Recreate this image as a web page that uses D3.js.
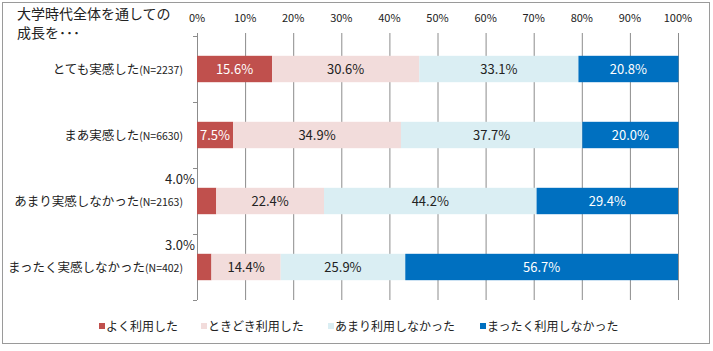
<!DOCTYPE html>
<html><head><meta charset="utf-8">
<script src="https://cdn.jsdelivr.net/npm/d3@7/dist/d3.min.js"></script>
<style>body{margin:0;background:#fff;} text{font-family:"Noto Sans CJK JP","Noto Sans",sans-serif;}</style>
</head><body>
<svg id="c" width="713" height="351"></svg>
<script>
const categories = ["とても実感した", "まあ実感した", "あまり実感しなかった", "まったく実感しなかった"];
const sampleSizes = ["(N=2237)", "(N=6630)", "(N=2163)", "(N=402)"];
const seriesNames = ["よく利用した", "ときどき利用した", "あまり利用しなかった", "まったく利用しなかった"];
const often = [15.6, 7.5, 4.0, 3.0];
const sometimes = [30.6, 34.9, 22.4, 14.4];
const rarely = [33.1, 37.7, 44.2, 25.9];
const never = [20.8, 20.0, 29.4, 56.7];
const tickValues = [0,10,20,30,40,50,60,70,80,90,100];
const colors = ["#C0504D", "#F2DCDB", "#DAEEF3", "#0070C0"];
const labelColors = ["#ffffff", "#222222", "#222222", "#ffffff"];

const series = [often, sometimes, rarely, never];
const svg = d3.select("#c");
svg.append("rect").attr("x",2.5).attr("y",2.5).attr("width",707).attr("height",341)
  .attr("fill","#fff").attr("stroke","#9a9a9a");

const x = d3.scaleLinear().domain([0,100]).range([197,678]);
const y = d3.scaleBand().domain(categories).range([36,300]).paddingInner(0.6).paddingOuter(0.3);
const yBand = d3.scaleBand().domain(categories).range([36,300]);

// gridlines
svg.append("g").selectAll("line").data(tickValues).join("line")
  .attr("x1",d=>x(d)+0.5).attr("x2",d=>x(d)+0.5).attr("y1",33).attr("y2",300)
  .attr("stroke","#8c8c8c").attr("stroke-width",1);

// left axis ticks
const cuts = [36].concat(categories.map(c=>yBand(c)+yBand.bandwidth()));
svg.append("g").selectAll("line").data(cuts).join("line")
  .attr("x1",193).attr("x2",197).attr("y1",d=>Math.round(d)+0.5).attr("y2",d=>Math.round(d)+0.5)
  .attr("stroke","#8c8c8c");

// top tick labels
svg.append("g").selectAll("text").data(tickValues).join("text")
  .attr("x",d=>x(d)).attr("y",22).attr("text-anchor","middle")
  .attr("font-size",11).attr("fill","#222").text(d=>d+"%");

// stacked bars
const stackData = categories.map((c,i)=>{const o={cat:c}; seriesNames.forEach((s,j)=>o[s]=series[j][i]); return o;});
const stacked = d3.stack().keys(seriesNames)(stackData);
stacked.forEach((layer,j)=>{
  const g = svg.append("g");
  g.selectAll("rect").data(layer).join("rect")
    .attr("x",d=>x(d[0])).attr("width",d=>x(d[1])-x(d[0]))
    .attr("y",d=>y(d.data.cat)).attr("height",y.bandwidth())
    .attr("fill",colors[j]);
  g.selectAll("text").data(layer).join("text")
    .attr("x",d=>(d[1]-d[0])<5 ? x(0)-2 : (x(d[0])+x(d[1]))/2)
    .attr("y",d=>(d[1]-d[0])<5 ? y(d.data.cat)-4 : y(d.data.cat)+y.bandwidth()/2+5)
    .attr("text-anchor",d=>(d[1]-d[0])<5 ? "end" : "middle")
    .attr("font-size",13)
    .attr("fill",d=>(d[1]-d[0])<5 ? "#222" : labelColors[j])
    .text(d=>(d[1]-d[0]).toFixed(1)+"%");
});

// category labels
const cl = svg.append("g").selectAll("text").data(categories).join("text")
  .attr("x",183).attr("y",(d)=>y(d)+y.bandwidth()/2+5).attr("text-anchor","end")
  .attr("font-size",12.5).attr("fill","#222");
cl.append("tspan").text(d=>d);
cl.append("tspan").attr("font-size",10.5).text((d,i)=>sampleSizes[i]);

// title
svg.append("text").attr("x",17).attr("y",19).attr("font-size",14).attr("fill","#222").text("大学時代全体を通しての");
svg.append("text").attr("x",17).attr("y",38).attr("font-size",14).attr("fill","#222").text("成長を･･･");

// legend
const legX = [99, 201, 328, 480];
const lg = svg.append("g").selectAll("g").data(seriesNames).join("g")
  .attr("transform",(d,i)=>`translate(${legX[i]},326)`);
lg.append("rect").attr("x",0).attr("y",-3).attr("width",6).attr("height",6).attr("fill",(d,i)=>colors[i]);
lg.append("text").attr("x",7).attr("y",5).attr("font-size",12).attr("fill","#222").text(d=>d);
</script>
</body></html>
